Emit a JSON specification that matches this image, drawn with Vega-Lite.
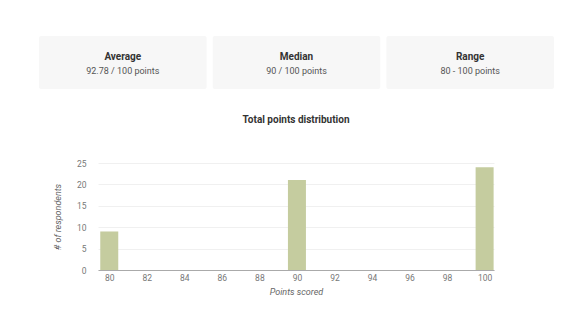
{
  "$schema": "https://vega.github.io/schema/vega-lite/v6.json",
  "background": "white",
  "padding": {"left": 39, "top": 36, "right": 0, "bottom": 0},
  "config": {
    "font": "Roboto",
    "view": {"stroke": null}
  },
  "spacing": 26,
  "vconcat": [
    {
      "width": 515,
      "height": 53,
      "data": {"values": [
        {"stat": "Average", "label": "Average", "value": "92.78 / 100 points"},
        {"stat": "Median", "label": "Median", "value": "90 / 100 points"},
        {"stat": "Range", "label": "Range", "value": "80 - 100 points"}
      ]},
      "encoding": {
        "x": {"field": "stat", "type": "nominal", "sort": null,
          "scale": {"paddingInner": 0.035, "paddingOuter": 0}, "axis": null}
      },
      "layer": [
        {"mark": {"type": "rect", "fill": "#f7f7f7", "cornerRadius": 2}},
        {"mark": {"type": "text", "fontSize": 10, "fontWeight": "bold", "fill": "#333333", "baseline": "middle", "dy": -6},
          "encoding": {"text": {"field": "label"}}},
        {"mark": {"type": "text", "fontSize": 9, "fill": "#555555", "baseline": "middle", "dy": 8.5},
          "encoding": {"text": {"field": "value"}}}
      ]
    },
    {
      "spacing": 13,
      "hconcat": [
        {
          "width": 1,
          "height": 1,
          "data": {"values": []},
          "mark": {"type": "point", "opacity": 0},
          "encoding": {}
        },
        {
          "width": 396,
          "height": 107,
          "title": {"text": "Total points distribution", "fontSize": 10, "fontWeight": "bold", "color": "#333333", "anchor": "middle", "offset": 34},
          "data": {"values": [
            {"points": 80, "count": 9},
            {"points": 81, "count": 0},
            {"points": 82, "count": 0},
            {"points": 83, "count": 0},
            {"points": 84, "count": 0},
            {"points": 85, "count": 0},
            {"points": 86, "count": 0},
            {"points": 87, "count": 0},
            {"points": 88, "count": 0},
            {"points": 89, "count": 0},
            {"points": 90, "count": 21},
            {"points": 91, "count": 0},
            {"points": 92, "count": 0},
            {"points": 93, "count": 0},
            {"points": 94, "count": 0},
            {"points": 95, "count": 0},
            {"points": 96, "count": 0},
            {"points": 97, "count": 0},
            {"points": 98, "count": 0},
            {"points": 99, "count": 0},
            {"points": 100, "count": 24}
          ]},
          "mark": {"type": "bar", "size": 18, "color": "#c5cc9f"},
          "encoding": {
            "x": {"field": "points", "type": "quantitative",
              "scale": {"domain": [79.4, 100.5], "nice": false, "zero": false, "padding": 0},
              "axis": {"values": [80, 82, 84, 86, 88, 90, 92, 94, 96, 98, 100],
                "grid": false, "ticks": false, "domainColor": "#aaaaaa", "labelFontSize": 8.5,
                "labelColor": "#777777", "labelPadding": 3,
                "title": "Points scored", "titleFontStyle": "italic", "titleFontWeight": "normal",
                "titleFontSize": 9, "titleColor": "#666666", "titlePadding": 6}},
            "y": {"field": "count", "type": "quantitative",
              "scale": {"domain": [0, 25], "nice": false},
              "axis": {"values": [0, 5, 10, 15, 20, 25], "gridColor": "#f0f0f0", "domain": false,
                "ticks": false, "labelFontSize": 8.5, "labelColor": "#777777", "labelPadding": 12,
                "title": "# of respondents", "titleFontStyle": "italic", "titleFontWeight": "normal",
                "titleFontSize": 9, "titleColor": "#666666", "titlePadding": 14}}
          }
        }
      ]
    }
  ]
}
